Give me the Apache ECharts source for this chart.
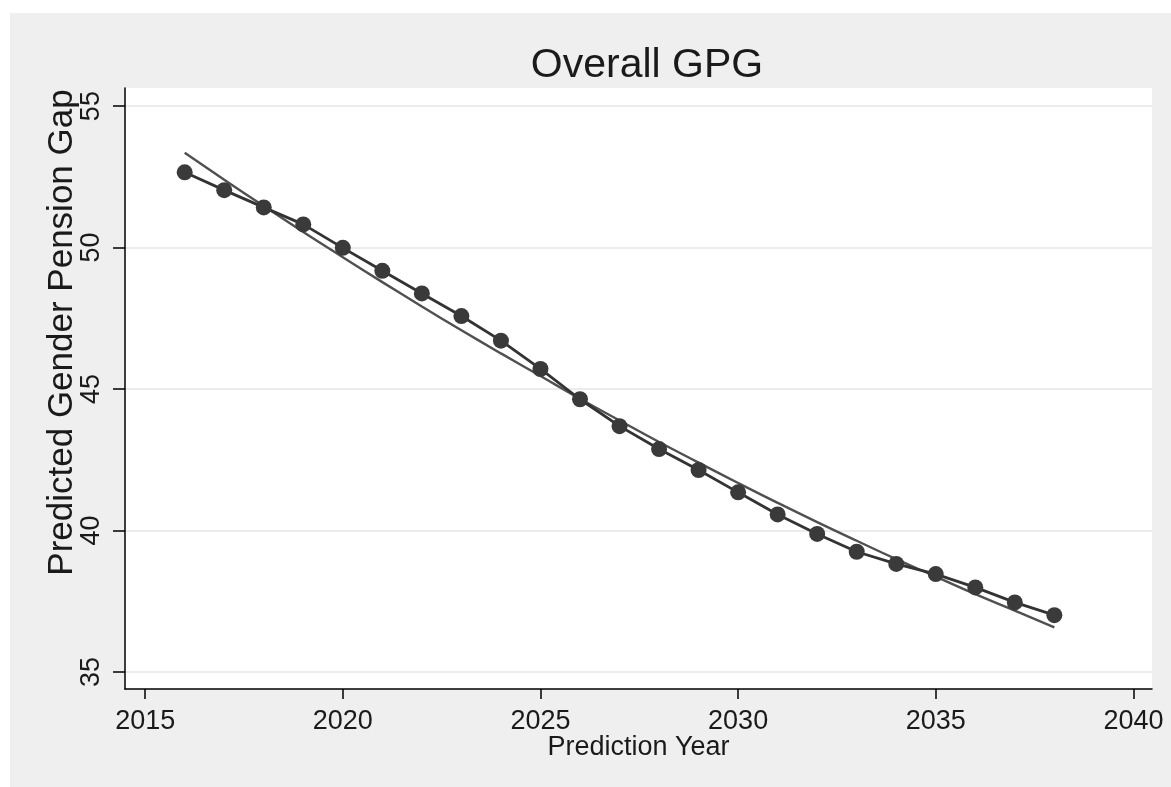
<!DOCTYPE html>
<html>
<head>
<meta charset="utf-8">
<script src="https://cdn.jsdelivr.net/npm/echarts@6/dist/echarts.min.js"></script>
<style>
html,body{margin:0;padding:0;background:#ffffff;}
#chart{width:1171px;height:787px;}
</style>
</head>
<body>
<div id="chart"></div>
<script>
// Data
const years = [2016,2017,2018,2019,2020,2021,2022,2023,2024,2025,2026,2027,2028,2029,2030,2031,2032,2033,2034,2035,2036,2037,2038];
const predictedGap = [52.66,52.03,51.42,50.82,49.99,49.18,48.38,47.58,46.71,45.71,44.64,43.69,42.88,42.14,41.35,40.57,39.88,39.25,38.82,38.46,37.99,37.46,37.01];
const fittedGap = [53.35,52.40,51.47,50.55,49.66,48.78,47.92,47.08,46.26,45.46,44.66,43.89,43.13,42.40,41.68,40.98,40.30,39.64,38.99,38.37,37.75,37.17,36.58];
const xTicks = [2015,2020,2025,2030,2035,2040];
const yTicks = [35,40,45,50,55];

const chart = echarts.init(document.getElementById('chart'), null, {renderer:'canvas'});
const font = 'Liberation Sans, Arial, sans-serif';

const option = {
  backgroundColor: '#ffffff',
  animation: false,
  graphic: [{
    type: 'rect', z: -10, silent: true,
    shape: {x: 10, y: 13, width: 1161, height: 774},
    style: {fill: '#efefef'}
  }],
  title: {
    text: 'Overall GPG',
    left: 642, top: 40, textAlign: 'center',
    textStyle: {fontFamily: font, fontSize: 41, fontWeight: 'normal', color: '#1a1a1a'}
  },
  grid: {
    left: 125, top: 88, right: 19, bottom: 98,
    show: true, backgroundColor: '#ffffff', borderWidth: 0
  },
  xAxis: {
    type: 'value', min: 2014.49, max: 2040.47,
    name: 'Prediction Year', nameLocation: 'middle', nameGap: 45, nameMoveOverlap: false,
    nameTextStyle: {fontFamily: font, fontSize: 27, color: '#1a1a1a'},
    axisLine: {show: true, lineStyle: {color: '#000', width: 1.5}},
    axisTick: {show: true, length: 10, lineStyle: {color: '#000', width: 1.5}, customValues: xTicks},
    axisLabel: {fontFamily: font, fontSize: 27, color: '#1a1a1a', margin: 19, customValues: xTicks, formatter: v => String(v)},
    splitLine: {show: false}
  },
  yAxis: {
    type: 'value', min: 34.4, max: 55.64,
    name: 'Predicted Gender Pension Gap', nameLocation: 'middle', nameGap: 45, nameMoveOverlap: false,
    nameTextStyle: {fontFamily: font, fontSize: 35, color: '#1a1a1a', padding: [0, 0, 0, 112]},
    axisLine: {show: true, lineStyle: {color: '#000', width: 1.5}},
    axisTick: {show: true, length: 12, lineStyle: {color: '#000', width: 1.5}, customValues: yTicks},
    axisLabel: {fontFamily: font, fontSize: 27, color: '#1a1a1a', rotate: 90, margin: 20, customValues: yTicks, formatter: v => String(v)},
    splitLine: {show: true, lineStyle: {color: '#ececec', width: 2}}
  },
  series: [
    {
      type: 'line', name: 'fit',
      data: years.map((y, i) => [y, fittedGap[i]]),
      smooth: true, showSymbol: false, symbol: 'none',
      lineStyle: {color: '#505050', width: 2.4},
      z: 2
    },
    {
      type: 'line', name: 'predicted',
      data: years.map((y, i) => [y, predictedGap[i]]),
      symbol: 'circle', symbolSize: 16,
      itemStyle: {color: '#3a3a3a'},
      lineStyle: {color: '#333333', width: 2.8},
      z: 3
    }
  ]
};
chart.setOption(option);
</script>
</body>
</html>
